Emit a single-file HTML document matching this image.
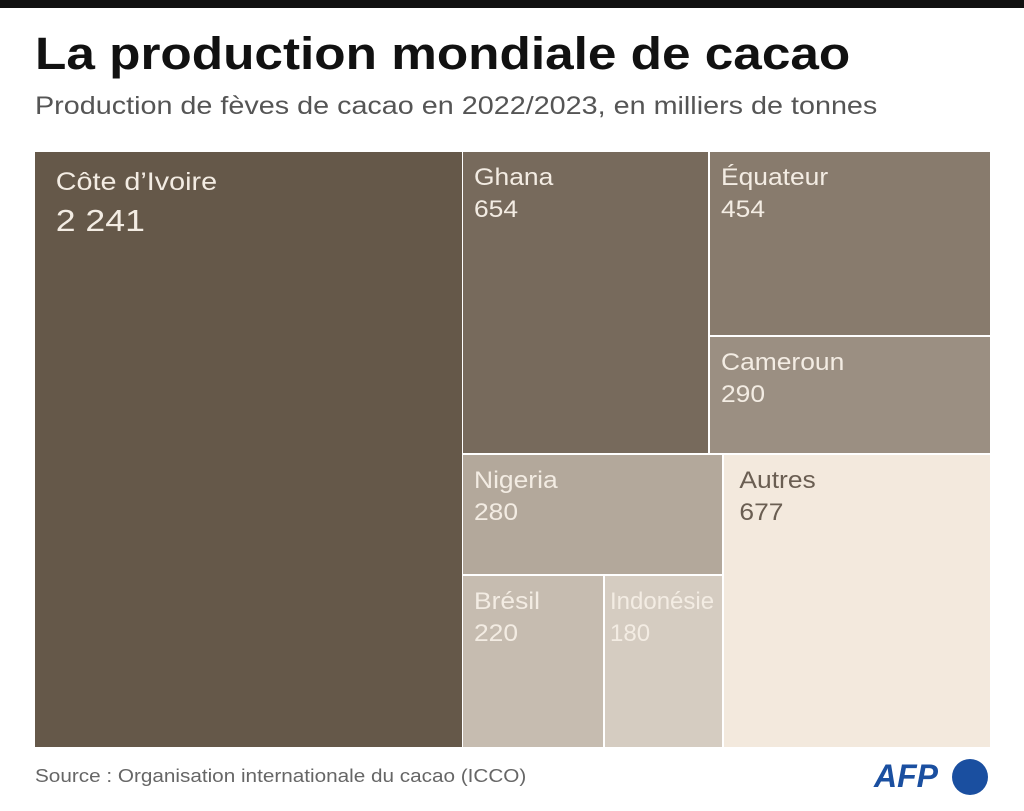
<!DOCTYPE html><html><head><meta charset="utf-8"><style>
body{margin:0;width:1024px;height:811px;background:#fff;position:relative;overflow:hidden;font-family:"Liberation Sans",sans-serif}
.bar{position:absolute;left:0;top:0;width:1024px;height:8px;background:#111}
h1{position:absolute;left:35px;top:28px;margin:0;font-size:45px;font-weight:bold;color:#111;white-space:nowrap;transform:scaleX(1.14);transform-origin:0 0}
.sub{position:absolute;left:35px;top:92px;font-size:25px;color:#555;white-space:nowrap;transform:scaleX(1.15);transform-origin:0 0}
.b{position:absolute;box-sizing:border-box;background-clip:padding-box}
.t{color:#f3ece3;font-size:24px;line-height:1.35;padding:10px 10px;white-space:nowrap;transform:scaleX(1.1);transform-origin:0 0}
.src{position:absolute;left:35px;top:766px;font-size:18px;color:#666;white-space:nowrap;transform:scaleX(1.15);transform-origin:0 0}
</style></head><body>
<div class="bar"></div>
<h1>La production mondiale de cacao</h1>
<div class="sub">Production de fèves de cacao en 2022/2023, en milliers de tonnes</div>
<div class="b" style="left:35px;top:152px;width:427px;height:595px;background:#655849"><div class="t" style="padding:14px 18px;font-size:25px;transform:scaleX(1.15)">Côte d’Ivoire<br><span style="font-size:31px">2 241</span></div></div>
<div class="b" style="left:463px;top:152px;width:245px;height:301px;background:#776a5c"><div class="t">Ghana<br>654</div></div>
<div class="b" style="left:710px;top:152px;width:280px;height:183px;background:#887b6d"><div class="t">Équateur<br>454</div></div>
<div class="b" style="left:710px;top:337px;width:280px;height:116px;background:#9b8f82"><div class="t">Cameroun<br>290</div></div>
<div class="b" style="left:463px;top:455px;width:259px;height:119px;background:#b3a89b"><div class="t">Nigeria<br>280</div></div>
<div class="b" style="left:463px;top:576px;width:140px;height:171px;background:#c6bcb0"><div class="t">Brésil<br>220</div></div>
<div class="b" style="left:605px;top:576px;width:117px;height:171px;background:#d5ccc1;overflow:hidden"><div class="t" style="padding-left:5px;transform:none">Indonésie<br>180</div></div>
<div class="b" style="left:724px;top:455px;width:266px;height:292px;background:#f3e9dd"><div class="t" style="color:#6a5e52;padding-left:14px">Autres<br>677</div></div>
<div class="src">Source : Organisation internationale du cacao (ICCO)</div>
<div style="position:absolute;left:874px;top:758px;font-size:32px;font-weight:bold;font-style:italic;color:#1a4fa0">AFP</div>
<div style="position:absolute;left:952px;top:759px;width:36px;height:36px;border-radius:50%;background:#1a4fa0"></div>
</body></html>
